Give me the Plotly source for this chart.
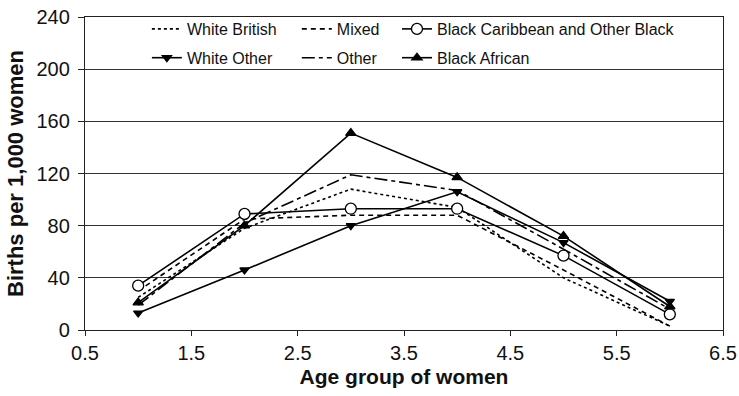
import plotly.graph_objects as go

ages = [1, 2, 3, 4, 5, 6]

white_british = [25, 78, 108, 94, 40, 3]
mixed = [30, 85, 88, 88, 46, 3]
black_caribbean = [34, 89, 93, 93, 57, 12]
white_other = [13, 46, 80, 106, 67, 22]
other = [19, 82, 119, 107, 62, 16]
black_african = [21, 80, 151, 117, 72, 18]

x_ticks = [0.5, 1.5, 2.5, 3.5, 4.5, 5.5, 6.5]
y_ticks = [0, 40, 80, 120, 160, 200, 240]

FONT = "Liberation Sans, Arial, Helvetica, sans-serif"
LW = 1.6

fig = go.Figure()

def add(name, y, dash, symbol=None, msize=8, mfill="black", legend="legend"):
    mode = "lines+markers" if symbol else "lines"
    marker = dict(symbol=symbol, size=msize, color=mfill,
                  line=dict(color="black", width=1.3)) if symbol else None
    fig.add_trace(go.Scatter(
        x=ages, y=y, name=name, mode=mode, legendgroup=name,
        line=dict(color="black", width=LW, dash=dash),
        marker=marker, legend=legend,
    ))

add("White British", white_british, "dot", legend="legend")
add("White Other", white_other, "solid", "triangle-down", 8, "black", legend="legend")
add("Mixed", mixed, "5px,4px", legend="legend2")
add("Other", other, "13px,4px,4px,4px", legend="legend2")
add("Black Caribbean and Other Black", black_caribbean, "solid", "circle", 11, "white", legend="legend3")
add("Black African", black_african, "solid", "triangle-up", 9, "black", legend="legend3")

leg_common = dict(yanchor="top", xanchor="left", y=1.016, bgcolor="rgba(0,0,0,0)",
                  font=dict(family=FONT, size=16, color="#111"),
                  orientation="v", tracegroupgap=5, traceorder="grouped")

fig.update_layout(
    width=739, height=396,
    margin=dict(l=85, r=16, t=17, b=66),
    paper_bgcolor="white", plot_bgcolor="white",
    font=dict(family=FONT, color="#111"),
    legend=dict(x=0.097, **leg_common),
    legend2=dict(x=0.332, **leg_common),
    legend3=dict(x=0.489, **leg_common),
    xaxis=dict(
        range=[0.5, 6.5], tickvals=x_ticks, ticktext=[str(v) for v in x_ticks],
        showgrid=False, zeroline=False, automargin=False,
        showline=True, linecolor="#222", linewidth=1.3, mirror=True,
        ticks="outside", ticklen=5, tickcolor="#222", tickwidth=1.2,
        tickfont=dict(size=20, family=FONT, color="#111"),
        title=dict(text="<b>Age group of women</b>", font=dict(size=21, family=FONT, color="#111"), standoff=6),
    ),
    yaxis=dict(
        range=[0, 240], tickvals=y_ticks,
        showgrid=True, gridcolor="#333", gridwidth=1, zeroline=False, automargin=False,
        showline=True, linecolor="#222", linewidth=1.3, mirror=True,
        ticks="outside", ticklen=6, tickcolor="#222", tickwidth=1.2,
        ticklabelstandoff=4,
        tickfont=dict(size=20, family=FONT, color="#111"),
        title=dict(text="<b>Births per 1,000 women</b>", font=dict(size=22, family=FONT, color="#111"), standoff=6),
    ),
)

fig.write_html("out.html")
